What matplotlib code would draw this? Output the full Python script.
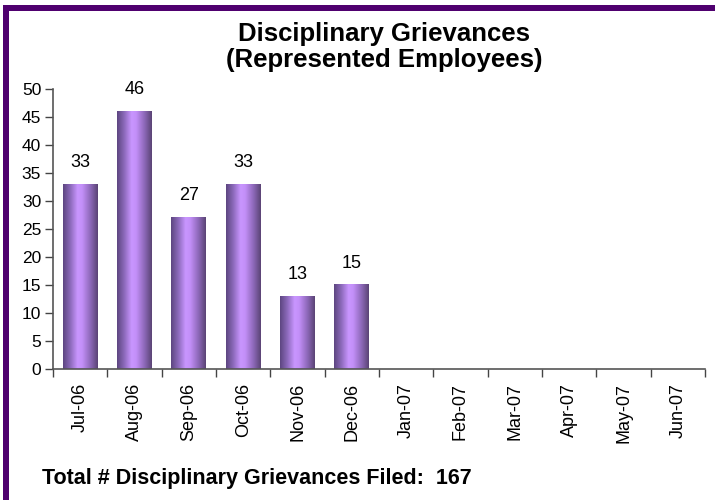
import numpy as np
import matplotlib
matplotlib.use("Agg")
import matplotlib.pyplot as plt
from matplotlib.patches import Rectangle
from matplotlib.colors import LinearSegmentedColormap

months = ["Jul-06", "Aug-06", "Sep-06", "Oct-06", "Nov-06", "Dec-06",
          "Jan-07", "Feb-07", "Mar-07", "Apr-07", "May-07", "Jun-07"]
grievances = [33, 46, 27, 33, 13, 15, 0, 0, 0, 0, 0, 0]
total_filed = 167

plt.rcParams['font.family'] = ['Liberation Sans', 'DejaVu Sans']

W, H = 715, 500
fig = plt.figure(figsize=(W / 100, H / 100), dpi=100)
fig.patch.set_facecolor('white')

ax = fig.add_axes([53 / W, 1 - 369 / H, (705 - 53) / W, (369 - 89) / H])

x = np.arange(len(months)) + 0.5
bars = ax.bar(x, grievances, width=0.64, color='none', edgecolor='none')

cmap = LinearSegmentedColormap.from_list(
    'bar', [(0.0, '#5c4580'), (0.2, '#8a68b8'), (0.42, '#c996ff'),
            (0.55, '#c38ff8'), (0.8, '#8a66b5'), (1.0, '#5a4374')])
grad = np.linspace(0, 1, 256).reshape(1, -1)
for b, v in zip(bars, grievances):
    if v <= 0:
        continue
    x0, w, h = b.get_x(), b.get_width(), b.get_height()
    ax.imshow(grad, cmap=cmap, aspect='auto', extent=[x0, x0 + w, 0, h],
              interpolation='bilinear', zorder=2)
    ax.text(x0 + w / 2, h + 2.4, f"{v}", ha='center', va='bottom',
            fontsize=13, color='black')

ax.set_xlim(0, len(months))
ax.set_ylim(0, 50)
ax.set_yticks(np.arange(0, 51, 5))
ax.tick_params(axis='y', labelsize=12.5, length=5.5, width=1, color='#444444', pad=3)

ax.set_xticks(np.arange(0, len(months) + 1), labels=[])
ax.set_xticks(x, labels=months, minor=True)
ax.tick_params(axis='x', which='major', length=5.5, width=1, color='#444444')
ax.tick_params(axis='x', which='minor', length=0, labelsize=13, labelrotation=90, pad=10)

for s in ['top', 'right']:
    ax.spines[s].set_visible(False)
for s in ['left', 'bottom']:
    ax.spines[s].set_color('#555555')
    ax.spines[s].set_linewidth(1.2)

fig.text(384 / W, 1 - 22 / H, "Disciplinary Grievances\n(Represented Employees)",
         ha='center', va='top', fontsize=18.5, fontweight='bold', linespacing=1.08)

fig.text(42 / W, 1 - 484 / H, f"Total # Disciplinary Grievances Filed:  {total_filed}",
         ha='left', va='baseline', fontsize=15.5, fontweight='bold')

border = '#4f006f'
fig.patches.append(Rectangle((3 / W, 1 - 11 / H), 1, 6 / H, transform=fig.transFigure,
                             facecolor=border, edgecolor='none', zorder=10))
fig.patches.append(Rectangle((3 / W, 0), 6 / W, 1 - 5 / H, transform=fig.transFigure,
                             facecolor=border, edgecolor='none', zorder=10))

fig.savefig("out.png", dpi=100)
